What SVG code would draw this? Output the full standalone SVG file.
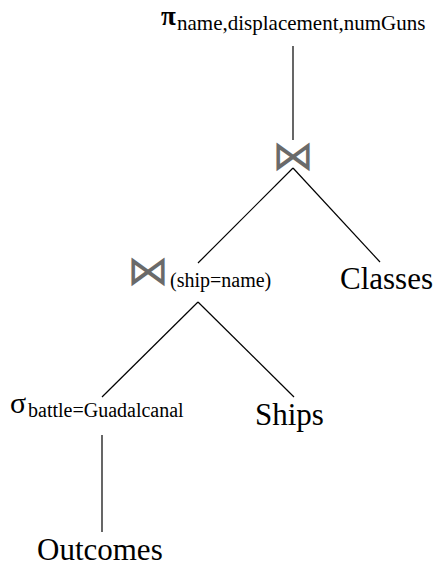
<svg xmlns="http://www.w3.org/2000/svg" width="443" height="571" viewBox="0 0 443 571">
<style>
text{font-family:"Liberation Serif","Times New Roman",Times,serif}
.big{font-size:31px;fill:#000}
.sym{font-size:30px;fill:#000}
.sub{font-size:20px;fill:#000}
.join{font-family:"DejaVu Sans",sans-serif;font-size:42px;fill:#6a6a6a;text-anchor:middle}
.edge{stroke:#000;stroke-width:1.2;fill:none}
</style>
<rect width="443" height="571" fill="#fff"/>
<g id="connectors">
<line class="edge" x1="293" y1="46" x2="293" y2="140"/>
<line class="edge" x1="293" y1="168" x2="198" y2="263"/>
<line class="edge" x1="293" y1="168" x2="380" y2="262"/>
<line class="edge" x1="198" y1="302" x2="102" y2="397"/>
<line class="edge" x1="198" y1="302" x2="294" y2="397"/>
<line class="edge" x1="102" y1="435" x2="102" y2="532"/>
</g>
<g id="project">
<text class="sym" x="161" y="25" font-weight="bold" style="font-size:27px">π</text>
<text class="sub" x="177" y="30" style="font-size:21px">name,displacement,numGuns</text>
</g>
<g id="join1">
<text class="join" x="293" y="170">⋈</text>
</g>
<g id="join2">
<text class="join" x="148" y="285">⋈</text>
<text class="sub" x="170" y="287">(ship=name)</text>
</g>
<g id="classes">
<text class="big" x="340" y="289">Classes</text>
</g>
<g id="select">
<text class="sym" x="10" y="413">σ</text>
<text class="sub" x="28" y="417">battle=Guadalcanal</text>
</g>
<g id="ships">
<text class="big" x="255" y="425">Ships</text>
</g>
<g id="outcomes">
<text class="big" x="37" y="560">Outcomes</text>
</g>
</svg>
